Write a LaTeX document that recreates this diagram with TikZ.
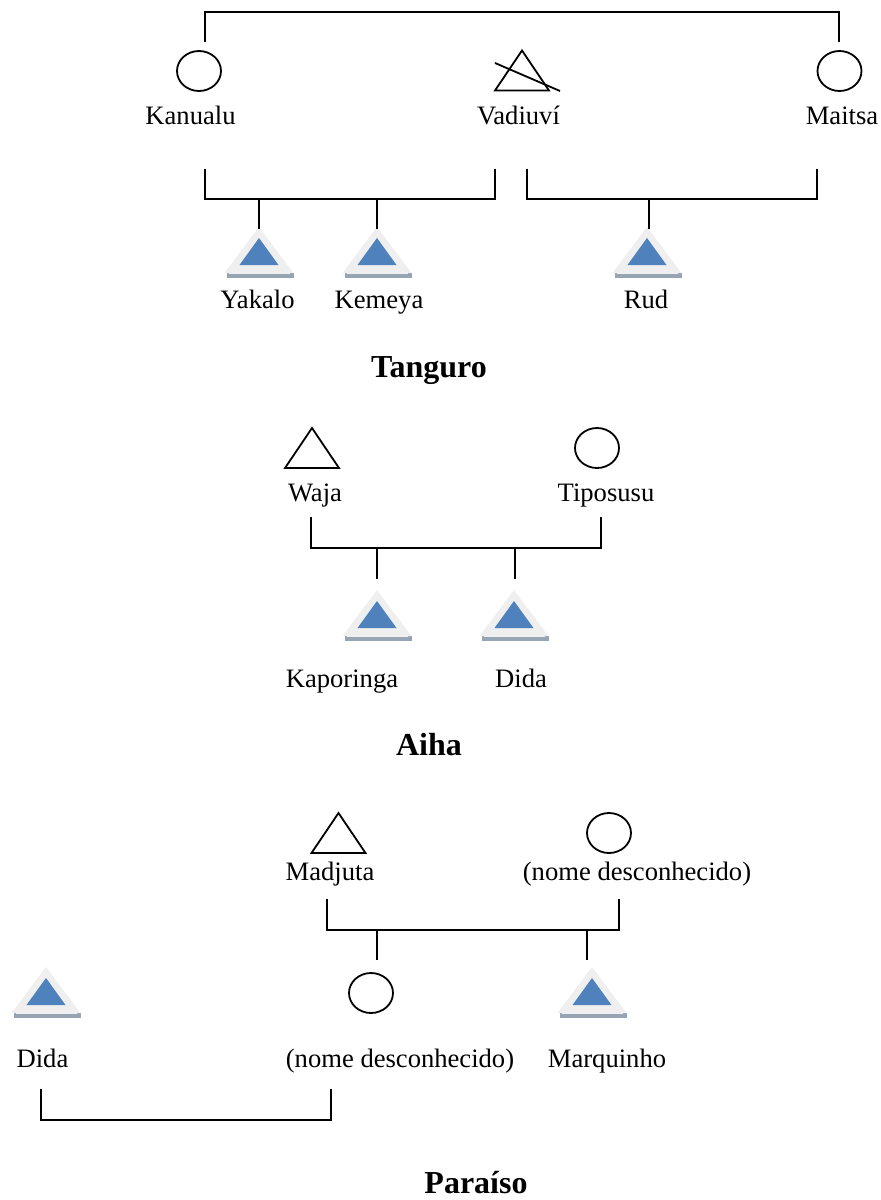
\documentclass[tikz,border=0pt]{standalone}
\usepackage{fontspec}
\setmainfont{Liberation Serif}
\usetikzlibrary{shapes.geometric}
\definecolor{sonblue}{HTML}{4F81BD}
\definecolor{songlow}{HTML}{EFEFEF}
\definecolor{sonbar}{HTML}{97A4B4}
\tikzset{
  kin/.style={line width=0.9pt},
  lbl/.style={anchor=base,inner sep=0pt,font=\fontsize{13.3}{16}\selectfont},
  group/.style={anchor=base,inner sep=0pt,font=\fontsize{16}{19}\selectfont\bfseries},
  woman/.style={kin,draw,ellipse,minimum width=22pt,minimum height=20pt,inner sep=0pt},
  man/.pic={\draw[kin] (-27,20) -- (0,-20) -- (27,20) -- cycle;},
  deadman/.pic={\draw[kin] (-27,20) -- (0,-20) -- (27,20) -- cycle;
    \draw[kin] (-27,-7.5) -- (38,20.5);},
  son/.pic={\fill[sonbar] (-32,23) rectangle (35,28);
    \fill[songlow] (-34.5,23) -- (0,-23) -- (34.5,23) -- cycle;
    \draw[white!85!sonbar,line width=0.4pt] (-30,23.5) -- (31,23.5);
    \fill[sonblue] (-19.5,15) -- (0,-12) -- (19.5,15) -- cycle;}
}
\begin{document}
\begin{tikzpicture}[x=0.5pt,y=-0.5pt]
  \useasboundingbox (0,0) rectangle (881,1200);

  % Tanguro
  \node[woman] (kanualuS) at (199,71) {};
  \pic at (522,70.5) {deadman};
  \node[woman] (maitsaS) at (839.5,71) {};
  \node[lbl] (kanualu) at (190.5,124) {Kanualu};
  \node[lbl] (vadiuvi) at (518.5,124) {Vadiuví};
  \node[lbl] (maitsa) at (842,124) {Maitsa};

  \coordinate (kanualuT) at (205,42);
  \coordinate (maitsaT) at (839,42);
  \draw[kin] (kanualuT) -- ++(0,-30) -| (maitsaT);

  \coordinate (kanualuB) at (205,169);
  \coordinate (vadiuviB) at (495,169);
  \coordinate (vadiuviB2) at (527,169);
  \coordinate (maitsaB) at (817,169);
  \draw[kin] (kanualuB) -- ++(0,30) -| (vadiuviB);
  \draw[kin] (vadiuviB2) -- ++(0,30) -| (maitsaB);

  \pic at (259,250) {son};
  \pic at (377,250) {son};
  \pic at (647,250) {son};
  \coordinate (yakaloT) at (259,229);
  \coordinate (kemeyaT) at (377,229);
  \coordinate (rudT) at (649,229);
  \draw[kin] (yakaloT) -- (yakaloT |- 0,199);
  \draw[kin] (kemeyaT) -- (kemeyaT |- 0,199);
  \draw[kin] (rudT) -- (rudT |- 0,199);
  \node[lbl] (yakalo) at (257.5,308) {Yakalo};
  \node[lbl] (kemeya) at (379,308) {Kemeya};
  \node[lbl] (rud) at (646,308) {Rud};
  \node[group] (tanguro) at (429,377) {Tanguro};

  % Aiha
  \pic at (312,448) {man};
  \node[woman] (tiposusuS) at (597,448) {};
  \node[lbl] (waja) at (315,501) {Waja};
  \node[lbl] (tiposusu) at (606,501) {Tiposusu};
  \coordinate (wajaB) at (311,517);
  \coordinate (tiposusuB) at (601,517);
  \draw[kin] (wajaB) -- ++(0,31) -| (tiposusuB);
  \pic at (377,613) {son};
  \pic at (514,613) {son};
  \coordinate (kaporingaT) at (377,579);
  \coordinate (didaT) at (515,579);
  \draw[kin] (kaporingaT) -- (kaporingaT |- 0,548);
  \draw[kin] (didaT) -- (didaT |- 0,548);
  \node[lbl] (kaporinga) at (342,687) {Kaporinga};
  \node[lbl] (dida) at (521,687) {Dida};
  \node[group] (aiha) at (429,755) {Aiha};

  % Paraiso
  \pic at (338.5,833) {man};
  \node[woman] (desc1S) at (609,833) {};
  \node[lbl] (madjuta) at (330,880) {Madjuta};
  \node[lbl] (desc1) at (637,880) {(nome desconhecido)};
  \coordinate (madjutaB) at (327,899);
  \coordinate (desc1B) at (619,899);
  \draw[kin] (madjutaB) -- ++(0,31) -| (desc1B);
  \node[woman] (desc2S) at (371,993) {};
  \pic at (46,990) {son};
  \pic at (592,990) {son};
  \coordinate (desc2T) at (377,960);
  \coordinate (marquinhoT) at (587,960);
  \draw[kin] (desc2T) -- (desc2T |- 0,930);
  \draw[kin] (marquinhoT) -- (marquinhoT |- 0,930);
  \node[lbl] (dida2) at (42.5,1067) {Dida};
  \node[lbl] (desc2) at (400,1067) {(nome desconhecido)};
  \node[lbl] (marquinho) at (607,1067) {Marquinho};
  \coordinate (dida2B) at (41,1089);
  \coordinate (desc2B) at (331,1089);
  \draw[kin] (dida2B) -- ++(0,31) -| (desc2B);
  \node[group] (paraiso) at (476,1193) {Paraíso};
\end{tikzpicture}
\end{document}
